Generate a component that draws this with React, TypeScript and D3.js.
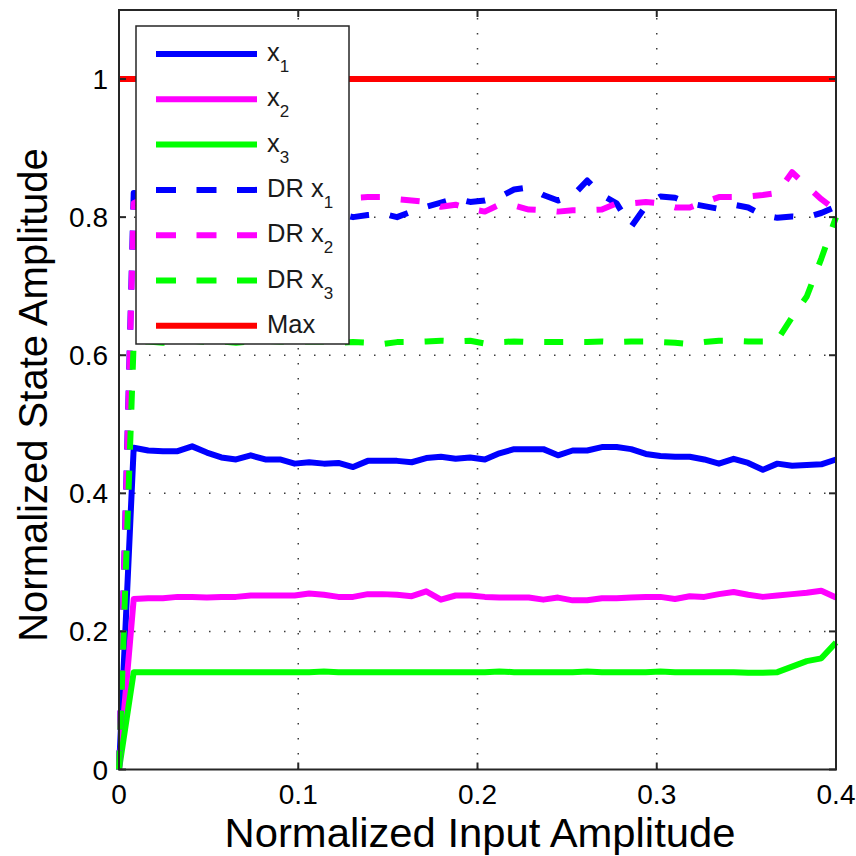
import React from "react";
import * as d3 from "d3";

const xValues = [
  0, 0.0082, 0.0163, 0.0245, 0.0327, 0.0408, 0.049, 0.0571, 0.0653, 0.0735,
  0.0816, 0.0898, 0.098, 0.1061, 0.1143, 0.1224, 0.1306, 0.1388, 0.1469, 0.1551,
  0.1633, 0.1714, 0.1796, 0.1878, 0.1959, 0.2041, 0.2122, 0.2204, 0.2286, 0.2367,
  0.2449, 0.2531, 0.2612, 0.2694, 0.2776, 0.2857, 0.2939, 0.302, 0.3102, 0.3184,
  0.3265, 0.3347, 0.3429, 0.351, 0.3592, 0.3673, 0.3755, 0.3837, 0.3918, 0.4,
];

const x1 = [
  0, 0.466, 0.462, 0.461, 0.461, 0.468, 0.459, 0.452, 0.449, 0.455,
  0.449, 0.449, 0.443, 0.445, 0.443, 0.444, 0.438, 0.447, 0.447, 0.447,
  0.445, 0.451, 0.453, 0.45, 0.452, 0.449, 0.458, 0.464, 0.464, 0.464,
  0.455, 0.462, 0.462, 0.467, 0.467, 0.464, 0.457, 0.454, 0.453, 0.453,
  0.449, 0.443, 0.45, 0.444, 0.434, 0.443, 0.44, 0.441, 0.442, 0.449,
];

const x2 = [
  0, 0.247, 0.248, 0.248, 0.25, 0.25, 0.249, 0.25, 0.25, 0.252,
  0.252, 0.252, 0.252, 0.255, 0.253, 0.25, 0.25, 0.254, 0.254, 0.253,
  0.251, 0.258, 0.246, 0.252, 0.252, 0.25, 0.249, 0.249, 0.249, 0.246,
  0.249, 0.245, 0.245, 0.248, 0.248, 0.249, 0.25, 0.25, 0.247, 0.251,
  0.25, 0.254, 0.257, 0.253, 0.25, 0.252, 0.254, 0.256, 0.259, 0.249,
];

const x3 = [
  0, 0.141, 0.141, 0.141, 0.141, 0.141, 0.141, 0.141, 0.141, 0.141,
  0.141, 0.141, 0.141, 0.141, 0.142, 0.141, 0.141, 0.141, 0.141, 0.141,
  0.141, 0.141, 0.141, 0.141, 0.141, 0.141, 0.142, 0.141, 0.141, 0.141,
  0.141, 0.141, 0.142, 0.141, 0.141, 0.141, 0.141, 0.142, 0.141, 0.141,
  0.141, 0.141, 0.141, 0.14, 0.14, 0.141, 0.149, 0.157, 0.161, 0.184,
];

const drX1 = [
  0, 0.835, 0.83, 0.825, 0.83, 0.835, 0.83, 0.825, 0.82, 0.825,
  0.83, 0.82, 0.815, 0.81, 0.81, 0.805, 0.8, 0.803, 0.805, 0.8,
  0.808, 0.815, 0.821, 0.827, 0.822, 0.824, 0.829, 0.84, 0.843, 0.832,
  0.824, 0.831, 0.853, 0.832, 0.82, 0.786, 0.816, 0.83, 0.828, 0.82,
  0.816, 0.812, 0.818, 0.814, 0.803, 0.799, 0.801, 0.8, 0.806, 0.815,
];

const drX2 = [
  0, 0.82, 0.83, 0.835, 0.83, 0.825, 0.83, 0.835, 0.83, 0.825,
  0.83, 0.835, 0.83, 0.825, 0.83, 0.83, 0.828, 0.829, 0.829, 0.826,
  0.824, 0.822, 0.815, 0.818, 0.812, 0.808, 0.818, 0.817, 0.811, 0.81,
  0.808, 0.81, 0.81, 0.811, 0.82, 0.82, 0.822, 0.82, 0.814, 0.814,
  0.822, 0.829, 0.829, 0.83, 0.832, 0.835, 0.865, 0.845, 0.826, 0.81,
];

const drX3 = [
  0, 0.62, 0.62, 0.618, 0.62, 0.621, 0.619, 0.62, 0.618, 0.62,
  0.621, 0.62, 0.619, 0.62, 0.62, 0.618, 0.619, 0.618, 0.616, 0.619,
  0.619, 0.62, 0.621, 0.62, 0.621, 0.617, 0.619, 0.62, 0.619, 0.619,
  0.619, 0.619, 0.619, 0.62, 0.619, 0.62, 0.62, 0.619, 0.618, 0.616,
  0.619, 0.621, 0.621, 0.62, 0.62, 0.622, 0.655, 0.685, 0.74, 0.8,
];

const maxLine = [1, 1];
const maxX = [0, 0.4];

const xTicks = [0, 0.1, 0.2, 0.3, 0.4];
const yTicks = [0, 0.2, 0.4, 0.6, 0.8, 1];
const xTickLabels = ["0", "0.1", "0.2", "0.3", "0.4"];
const yTickLabels = ["0", "0.2", "0.4", "0.6", "0.8", "1"];

const seriesNames = ["x", "x", "x", "DR x", "DR x", "DR x", "Max"];
const seriesSubs = ["1", "2", "3", "1", "2", "3", ""];
const seriesColors = ["#0000ff", "#ff00ff", "#00ff00", "#0000ff", "#ff00ff", "#00ff00", "#ff0000"];
const seriesDashed = [false, false, false, true, true, true, false];

const FONT = "'Liberation Sans', Arial, Helvetica, sans-serif";

export default function App() {
  const W = 856;
  const H = 856;
  const left = 119;
  const right = 836;
  const top = 10;
  const bottom = 769.5;

  const x = d3.scaleLinear().domain([0, 0.4]).range([left, right]);
  const y = d3.scaleLinear().domain([0, 1.1]).range([bottom, top]);

  const line = d3
    .line<[number, number]>()
    .x((d) => x(d[0]))
    .y((d) => y(d[1]));

  const allSeries = [x1, x2, x3, drX1, drX2, drX3];
  const paths = allSeries.map((s) => line(s.map((v, i) => [xValues[i], v] as [number, number])) || "");
  const maxPath = line(maxX.map((v, i) => [v, maxLine[i]] as [number, number])) || "";
  paths.push(maxPath);

  const axisColor = "#262626";
  const gridColor = "#3a3a3a";
  const tickLen = 7;

  const legLeft = 136;
  const legTop = 26;
  const legRight = 349;
  const legBottom = 344;
  const legY0 = 54;
  const legStep = 45.3;

  return (
    <svg
      width={W}
      height={H}
      viewBox={`0 0 ${W} ${H}`}
      style={{ position: "fixed", left: 0, top: 0, background: "#fff" }}
    >
      <rect x={0} y={0} width={W} height={H} fill="#fff" />
      {/* grid */}
      <g>
        {xTicks
          .filter((t) => t > 0 && t < 0.4)
          .map((t) => (
            <line
              key={"gx" + t}
              x1={x(t)}
              x2={x(t)}
              y1={bottom}
              y2={top}
              stroke={gridColor}
              strokeWidth={1.5}
              strokeDasharray="1.5,13.5"
            />
          ))}
        {yTicks
          .filter((t) => t > 0)
          .map((t) => (
            <line
              key={"gy" + t}
              x1={left}
              x2={right}
              y1={y(t)}
              y2={y(t)}
              stroke={gridColor}
              strokeWidth={1.5}
              strokeDasharray="1.5,13.5"
            />
          ))}
      </g>
      {/* data */}
      <g fill="none" strokeLinejoin="round">
        {paths.map((p, i) => (
          <path
            key={"s" + i}
            d={p}
            stroke={seriesColors[i]}
            strokeWidth={6}
            strokeDasharray={seriesDashed[i] ? "19,21" : undefined}
            strokeLinecap="butt"
          />
        ))}
      </g>
      {/* axes box */}
      <rect
        x={left}
        y={top}
        width={right - left}
        height={bottom - top}
        fill="none"
        stroke={axisColor}
        strokeWidth={2}
      />
      {/* ticks */}
      <g stroke={axisColor} strokeWidth={2}>
        {xTicks.map((t) => (
          <g key={"xt" + t}>
            <line x1={x(t)} x2={x(t)} y1={bottom} y2={bottom - tickLen} />
            <line x1={x(t)} x2={x(t)} y1={top} y2={top + tickLen} />
          </g>
        ))}
        {yTicks.map((t) => (
          <g key={"yt" + t}>
            <line x1={left} x2={left + tickLen} y1={y(t)} y2={y(t)} />
            <line x1={right} x2={right - tickLen} y1={y(t)} y2={y(t)} />
          </g>
        ))}
      </g>
      {/* tick labels */}
      <g fontFamily={FONT} fontSize={28} fill="#000">
        {xTicks.map((t, i) => (
          <text key={"xl" + t} x={x(t)} y={804} textAnchor="middle">
            {xTickLabels[i]}
          </text>
        ))}
        {yTicks.map((t, i) => (
          <text key={"yl" + t} x={108} y={y(t) + 10} textAnchor="end">
            {yTickLabels[i]}
          </text>
        ))}
      </g>
      {/* axis labels */}
      <g transform="translate(480, 847) scale(1.045, 1)">
        <text x={0} y={0} textAnchor="middle" fontFamily={FONT} fontSize={40} fill="#000">
          Normalized Input Amplitude
        </text>
      </g>
      <text
        transform={`translate(47, 395) rotate(-90)`}
        textAnchor="middle"
        fontFamily={FONT}
        fontSize={40}
        fill="#000"
      >
        Normalized State Amplitude
      </text>
      {/* legend */}
      <rect
        x={legLeft}
        y={legTop}
        width={legRight - legLeft}
        height={legBottom - legTop}
        fill="#fff"
        stroke={axisColor}
        strokeWidth={1.5}
      />
      {seriesNames.map((name, i) => {
        const cy = legY0 + i * legStep;
        return (
          <g key={"lg" + i}>
            <line
              x1={156}
              x2={257}
              y1={cy}
              y2={cy}
              stroke={seriesColors[i]}
              strokeWidth={6}
              strokeDasharray={seriesDashed[i] ? "20,20.5" : undefined}
            />
            <text x={267} y={cy + 7} fontFamily={FONT} fontSize={25.5} fill="#1a1a1a">
              {name}
              {seriesSubs[i] ? (
                <tspan fontSize={17} dy={11}>
                  {seriesSubs[i]}
                </tspan>
              ) : null}
            </text>
          </g>
        );
      })}
    </svg>
  );
}
